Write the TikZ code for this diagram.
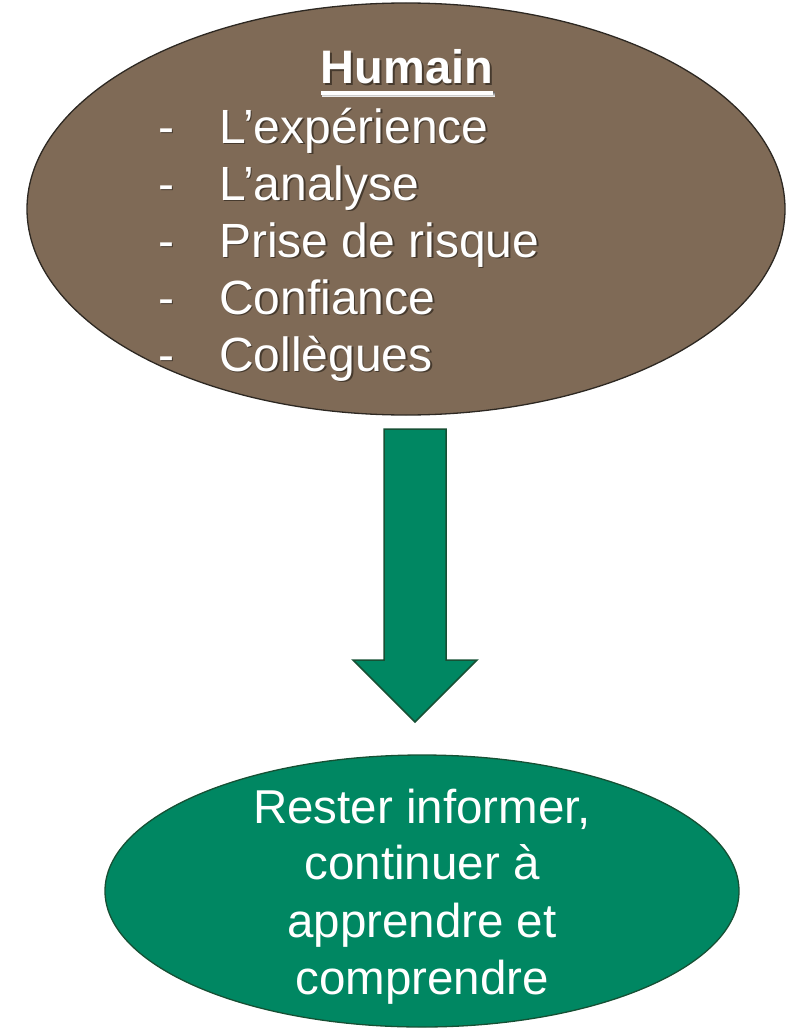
\documentclass[tikz,border=0pt]{standalone}
\usepackage{fontspec}
\setmainfont{Liberation Sans}
\usetikzlibrary{shapes.geometric}
\definecolor{brownfill}{RGB}{127,106,86}
\definecolor{brownline}{RGB}{45,40,34}
\definecolor{greenfill}{RGB}{0,135,98}
\definecolor{greenline}{RGB}{22,80,52}
\definecolor{shade}{RGB}{70,58,46}
\newcommand\shtxt[1]{\rlap{\kern1.6pt\lower1.6pt\hbox{\color{shade}#1}}#1}
\newcommand\bul[1]{\makebox[61pt][l]{\shtxt{-}}\shtxt{#1}}
\tikzset{
  x=1pt, y=1pt,
  bubble/.style={ellipse, inner sep=0pt, line width=1.3pt},
  big/.style={font=\fontsize{48}{57}\selectfont, text=white, inner sep=0pt, anchor=base west},
  bigc/.style={font=\fontsize{47.5}{57}\selectfont, text=white, inner sep=0pt, anchor=base},
}
\begin{document}
\begin{tikzpicture}
\useasboundingbox (0,0) rectangle (789,-1030);
% top ellipse
\node[bubble, draw=brownline, fill=brownfill, minimum width=758, minimum height=412] (human) at (406,-209) {};
\node[bigc, font=\fontsize{47}{57}\selectfont\bfseries] (hum) at (407,-84) {\shtxt{Humain}};
\fill[shade] ([xshift=1.6pt,yshift=-8.6pt]hum.base west) rectangle ([xshift=1.6pt,yshift=-12.6pt]hum.base east);
\fill[white] ([yshift=-7pt]hum.base west) rectangle ([yshift=-11pt]hum.base east);
\node[big] (l1) at (158,-143) {\bul{L’expérience}};
\node[big] (l2) at (158,-200) {\bul{L’analyse}};
\node[big] (l3) at (158,-257) {\bul{Prise de risque}};
\node[big] (l4) at (158,-314) {\bul{Confiance}};
\node[big] (l5) at (158,-371) {\bul{Collègues}};
% block arrow
\coordinate (at) at (415,-429);
\coordinate (ab) at (415,-722);
\filldraw[fill=greenfill, draw=greenline, line width=1.5pt, line join=miter]
  ([xshift=-31pt]at) -- ([xshift=31pt]at) -- ([xshift=31pt,yshift=62pt]ab)
  -- ([xshift=62pt,yshift=62pt]ab) -- (ab) -- ([xshift=-62pt,yshift=62pt]ab)
  -- ([xshift=-31pt,yshift=62pt]ab) -- cycle;
% bottom ellipse
\node[bubble, draw=greenline, fill=greenfill, minimum width=634, minimum height=272] (goal) at (422,-891) {};
\node[bigc] (g1) at (422,-823) {Rester informer,};
\node[bigc] (g2) at (422,-879) {continuer à};
\node[bigc] (g3) at (422,-937) {apprendre et};
\node[bigc] (g4) at (422,-994) {comprendre};
\end{tikzpicture}
\end{document}
